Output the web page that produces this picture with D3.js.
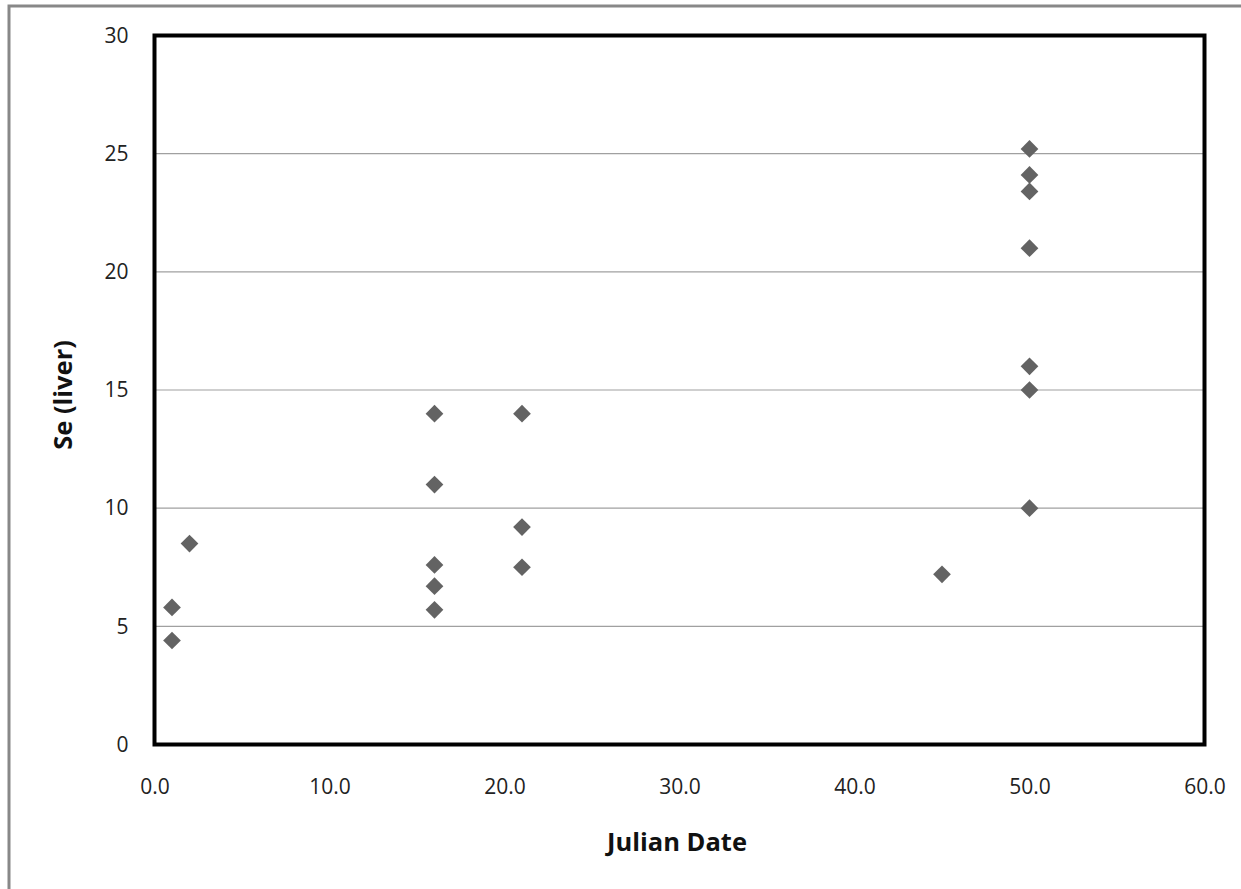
<!DOCTYPE html>
<html><head><meta charset="utf-8">
<script src="https://cdn.jsdelivr.net/npm/d3@7"></script>
<style>body{margin:0;background:#fff}svg{display:block}</style>
</head><body>
<script>
const xValues = [1,1,2,16,16,16,16,16,21,21,21,45,50,50,50,50,50,50,50];
const yValues = [5.8,4.4,8.5,14,11,7.6,6.7,5.7,14,9.2,7.5,7.2,25.2,24.1,23.4,21,16,15,10];
const xTicks = [0,10,20,30,40,50,60];
const yTicks = [0,5,10,15,20,25,30];
const xTitle = "Julian Date";
const yTitle = "Se (liver)";

const W = 1241, H = 889;
const svg = d3.select("body").append("svg").attr("width", W).attr("height", H);
const font = "'Open Sans', 'DejaVu Sans', sans-serif";

// outer frame
svg.append("rect").attr("x", 9).attr("y", 6).attr("width", W + 10).attr("height", H + 10)
  .attr("fill", "#fff").attr("stroke", "#888").attr("stroke-width", 3);

const L = 154.5, R = 1204.5, T = 35.5, B = 744.5;
const x = d3.scaleLinear().domain([0, 60]).range([L, R]);
const y = d3.scaleLinear().domain([0, 30]).range([B, T]);

// gridlines
svg.append("g").selectAll("line").data(yTicks.filter(d => d > 0 && d < 30)).join("line")
  .attr("x1", L).attr("x2", R).attr("y1", d => y(d)).attr("y2", d => y(d))
  .attr("stroke", "#a0a0a0").attr("stroke-width", 1.2);

// axes (labels only)
const yAxis = d3.axisLeft(y).tickValues(yTicks).tickSize(0).tickPadding(26).tickFormat(d3.format("d"));
const gy = svg.append("g").attr("transform", `translate(${L},0)`).call(yAxis);
const xAxis = d3.axisBottom(x).tickValues(xTicks).tickSize(0).tickPadding(35).tickFormat(d3.format(".1f"));
const gx = svg.append("g").attr("transform", `translate(0,${B})`).call(xAxis);
[gx, gy].forEach(g => {
  g.select(".domain").remove();
  g.attr("font-size", null).attr("font-family", null);
  g.selectAll("text").style("font-family", font).style("font-size", "21px").attr("fill", "#222");
});

// plot border
svg.append("rect").attr("x", L).attr("y", T).attr("width", R - L).attr("height", B - T)
  .attr("fill", "none").attr("stroke", "#000").attr("stroke-width", 4);

// points
const sym = d3.symbol().type(d3.symbolDiamond2).size(200);
svg.append("g").selectAll("path").data(xValues.map((d, i) => [d, yValues[i]])).join("path")
  .attr("d", sym).attr("transform", d => `translate(${x(d[0])},${y(d[1])})`)
  .attr("fill", "#636363");

// titles
svg.append("text").attr("x", 677).attr("y", 851).attr("text-anchor", "middle")
  .style("font-family", font).style("font-size", "25.5px").attr("font-weight", "bold").attr("fill", "#111").text(xTitle);
svg.append("text").attr("transform", `translate(72,395) rotate(-90)`).attr("text-anchor", "middle")
  .style("font-family", font).style("font-size", "25.5px").attr("font-weight", "bold").attr("fill", "#111").text(yTitle);
</script>
</body></html>
